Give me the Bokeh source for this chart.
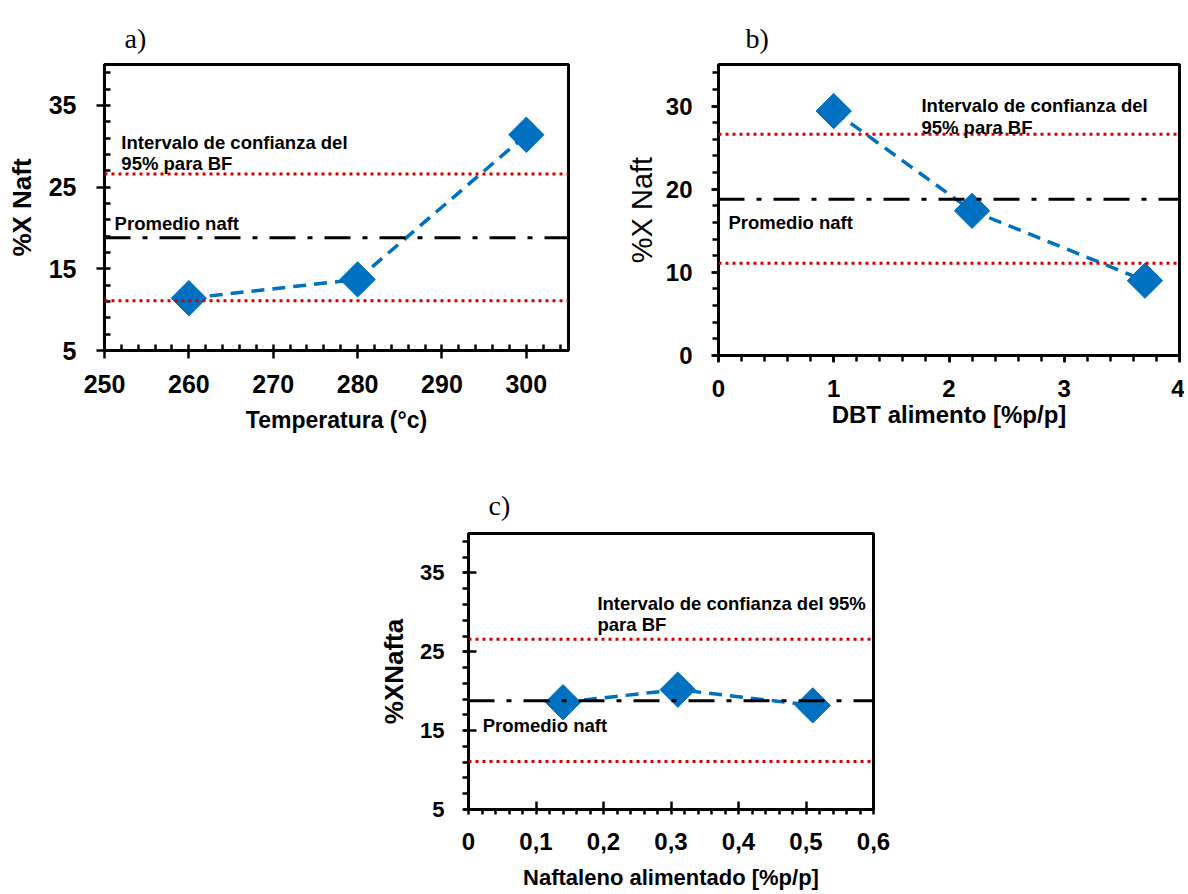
from bokeh.plotting import figure
from bokeh.models import Range1d, FixedTicker, Span, Label, CustomJSTickFormatter, Spacer
from bokeh.layouts import column, row
from bokeh.embed import file_html
from bokeh.resources import INLINE

# ---------------- data ----------------
a_temp = [260, 280, 300]
a_conv = [11.4, 13.7, 31.4]

b_dbt = [1.0, 2.2, 3.7]
b_conv = [29.4, 17.4, 9.0]

c_naft = [0.14, 0.31, 0.51]
c_conv = [18.6, 20.2, 18.2]

mean_naft = 18.8
ci_upper = 26.6
ci_lower = 11.1

a_xticks = [250, 260, 270, 280, 290, 300]
a_xminor = list(range(250, 306, 2))
a_yticks = [5, 15, 25, 35]
a_yminor = list(range(5, 41, 2))

b_xticks = [0, 1, 2, 3, 4]
b_xminor = [i * 0.2 for i in range(0, 21)]
b_yticks = [0, 10, 20, 30]
b_yminor = list(range(0, 36, 2))

c_xticks = [0, 0.1, 0.2, 0.3, 0.4, 0.5, 0.6]
c_xtick_labels = ["0", "0,1", "0,2", "0,3", "0,4", "0,5", "0,6"]
c_xminor = [i * 0.02 for i in range(0, 31)]
c_yticks = [5, 15, 25, 35]
c_yminor = list(range(5, 41, 2))

ci_text = ["Intervalo de confianza del", "95% para BF"]
ci_text_c = ["Intervalo de confianza del 95%", "para BF"]
mean_text = "Promedio naft"

BLUE = "#0070C0"
RED = "#D00000"
SANS = "Liberation Sans"
SERIF = "Liberation Serif"


def base_fig(xr, yr, fw, fh, bl, br, bt, bb, title, t_off, t_stand):
    p = figure(x_range=Range1d(*xr), y_range=Range1d(*yr),
               frame_width=fw, frame_height=fh,
               min_border_left=bl, min_border_right=br,
               min_border_top=bt, min_border_bottom=bb,
               output_backend="svg", toolbar_location=None, tools="")
    p.title.text = title
    p.title.text_font = SERIF
    p.title.text_font_size = "28px"
    p.title.text_font_style = "normal"
    p.title.text_color = "black"
    p.title.align = "left"
    p.title.vertical_align = "middle"
    p.title.offset = t_off
    p.title.standoff = t_stand
    p.xgrid.visible = False
    p.ygrid.visible = False
    p.outline_line_color = "black"
    p.outline_line_width = 3
    p.outline_line_alpha = 1
    p.background_fill_color = "white"
    p.border_fill_color = "white"
    for ax in (p.xaxis[0], p.yaxis[0]):
        ax.axis_line_width = 3
        ax.axis_line_color = "black"
        ax.major_tick_line_width = 2.5
        ax.minor_tick_line_width = 2.5
        ax.major_tick_line_color = "black"
        ax.minor_tick_line_color = "black"
        ax.major_label_text_font = SANS
        ax.major_label_text_font_style = "bold"
        ax.major_label_text_color = "black"
        ax.axis_label_text_font = SANS
        ax.axis_label_text_font_style = "bold"
        ax.axis_label_text_color = "black"
    return p


def ref_lines(p):
    for v, col, dash in ((ci_upper, RED, "3 4"), (ci_lower, RED, "3 4"),
                         (mean_naft, "black", "26 12 5 12")):
        p.add_layout(Span(location=v, dimension="width", line_color=col,
                          line_width=3, line_dash=dash))


def series(p, xs, ys):
    p.line(xs, ys, line_color=BLUE, line_width=3.5, line_dash="13 8")
    p.scatter(xs, ys, marker="square", angle=0.7854, size=25,
              fill_color=BLUE, line_color=BLUE)


def txt(p, x, y, s, size="18.5px"):
    p.add_layout(Label(x=x, y=y, text=s, text_font=SANS, text_font_size=size,
                       text_font_style="bold", text_align="left",
                       text_baseline="middle", text_color="black"))


# ---------------- panel a ----------------
pa = base_fig((250, 305), (5, 40), 464, 286, 104, 10, 64, 103, "a)", 20, 20)
pa.xaxis.ticker = FixedTicker(ticks=a_xticks, minor_ticks=a_xminor)
pa.yaxis.ticker = FixedTicker(ticks=a_yticks, minor_ticks=a_yminor)
for ax in (pa.xaxis[0], pa.yaxis[0]):
    ax.major_tick_out = 8
    ax.major_tick_in = 0
    ax.minor_tick_out = 0
    ax.minor_tick_in = 6
    ax.major_label_text_font_size = "25px"
pa.yaxis.major_label_standoff = 20
pa.xaxis.major_label_standoff = 16
pa.xaxis.axis_label = "Temperatura (°c)"
pa.xaxis.axis_label_text_font_size = "23px"
pa.xaxis.axis_label_standoff = 11
pa.yaxis.axis_label = "%X Naft"
pa.yaxis.axis_label_text_font_size = "26px"
pa.yaxis.axis_label_standoff = 9
ref_lines(pa)
series(pa, a_temp, a_conv)
txt(pa, 252.0, 30.45, ci_text[0])
txt(pa, 252.0, 27.9, ci_text[1])
txt(pa, 251.2, 20.5, mean_text)

# ---------------- panel b ----------------
pb = base_fig((0, 4), (0, 35), 461, 291, 140, 5, 63, 99, "b)", 27, 20)
pb.xaxis.ticker = FixedTicker(ticks=b_xticks, minor_ticks=b_xminor)
pb.yaxis.ticker = FixedTicker(ticks=b_yticks, minor_ticks=b_yminor)
for ax in (pb.xaxis[0], pb.yaxis[0]):
    ax.major_tick_out = 7
    ax.major_tick_in = 0
    ax.minor_tick_out = 6
    ax.minor_tick_in = 0
    ax.major_label_text_font_size = "24px"
pb.yaxis.major_label_standoff = 19
pb.xaxis.major_label_standoff = 17
pb.xaxis.axis_label = "DBT alimento [%p/p]"
pb.xaxis.axis_label_text_font_size = "24px"
pb.xaxis.axis_label_standoff = 1
pb.yaxis.axis_label = "%X Naft"
pb.yaxis.axis_label_text_font_size = "29px"
pb.yaxis.axis_label_text_font_style = "normal"
pb.yaxis.axis_label_standoff = 5
ref_lines(pb)
series(pb, b_dbt, b_conv)
txt(pb, 1.761, 30.07, ci_text[0])
txt(pb, 1.761, 27.4, ci_text[1])
txt(pb, 0.087, 16.0, mean_text)

# ---------------- panel c ----------------
pc = base_fig((0, 0.6), (5, 40), 405, 276, 100, 20, 80, 84, "c)", 20, 24)
fmt = CustomJSTickFormatter(args=dict(tv=c_xticks, tl=c_xtick_labels), code="""
    for (let i = 0; i < tv.length; i++) {
        if (Math.abs(tv[i] - tick) < 1e-9) { return tl[i]; }
    }
    return '';
""")
pc.xaxis.ticker = FixedTicker(ticks=c_xticks, minor_ticks=c_xminor)
pc.xaxis.formatter = fmt
pc.yaxis.ticker = FixedTicker(ticks=c_yticks, minor_ticks=c_yminor)
pc.xaxis.major_tick_out = 0
pc.xaxis.major_tick_in = 8
pc.xaxis.minor_tick_out = 5
pc.xaxis.minor_tick_in = 0
pc.yaxis.major_tick_out = 5
pc.yaxis.major_tick_in = 8
pc.yaxis.minor_tick_out = 6
pc.yaxis.minor_tick_in = 0
pc.xaxis.major_label_text_font_size = "24px"
pc.yaxis.major_label_text_font_size = "22px"
pc.yaxis.major_label_standoff = 18
pc.xaxis.major_label_standoff = 18
pc.xaxis.axis_label = "Naftaleno alimentado [%p/p]"
pc.xaxis.axis_label_text_font_size = "22px"
pc.xaxis.axis_label_standoff = 12
pc.yaxis.axis_label = "%XNafta"
pc.yaxis.axis_label_text_font_size = "26px"
pc.yaxis.axis_label_standoff = 8
ref_lines(pc)
series(pc, c_naft, c_conv)
txt(pc, 0.191, 31.1, ci_text_c[0])
txt(pc, 0.191, 28.5, ci_text_c[1])
txt(pc, 0.021, 15.65, mean_text)

layout = column(row(pa, pb), row(Spacer(width=368, height=440), pc))

open("out.html", "w").write(file_html(layout, INLINE))
